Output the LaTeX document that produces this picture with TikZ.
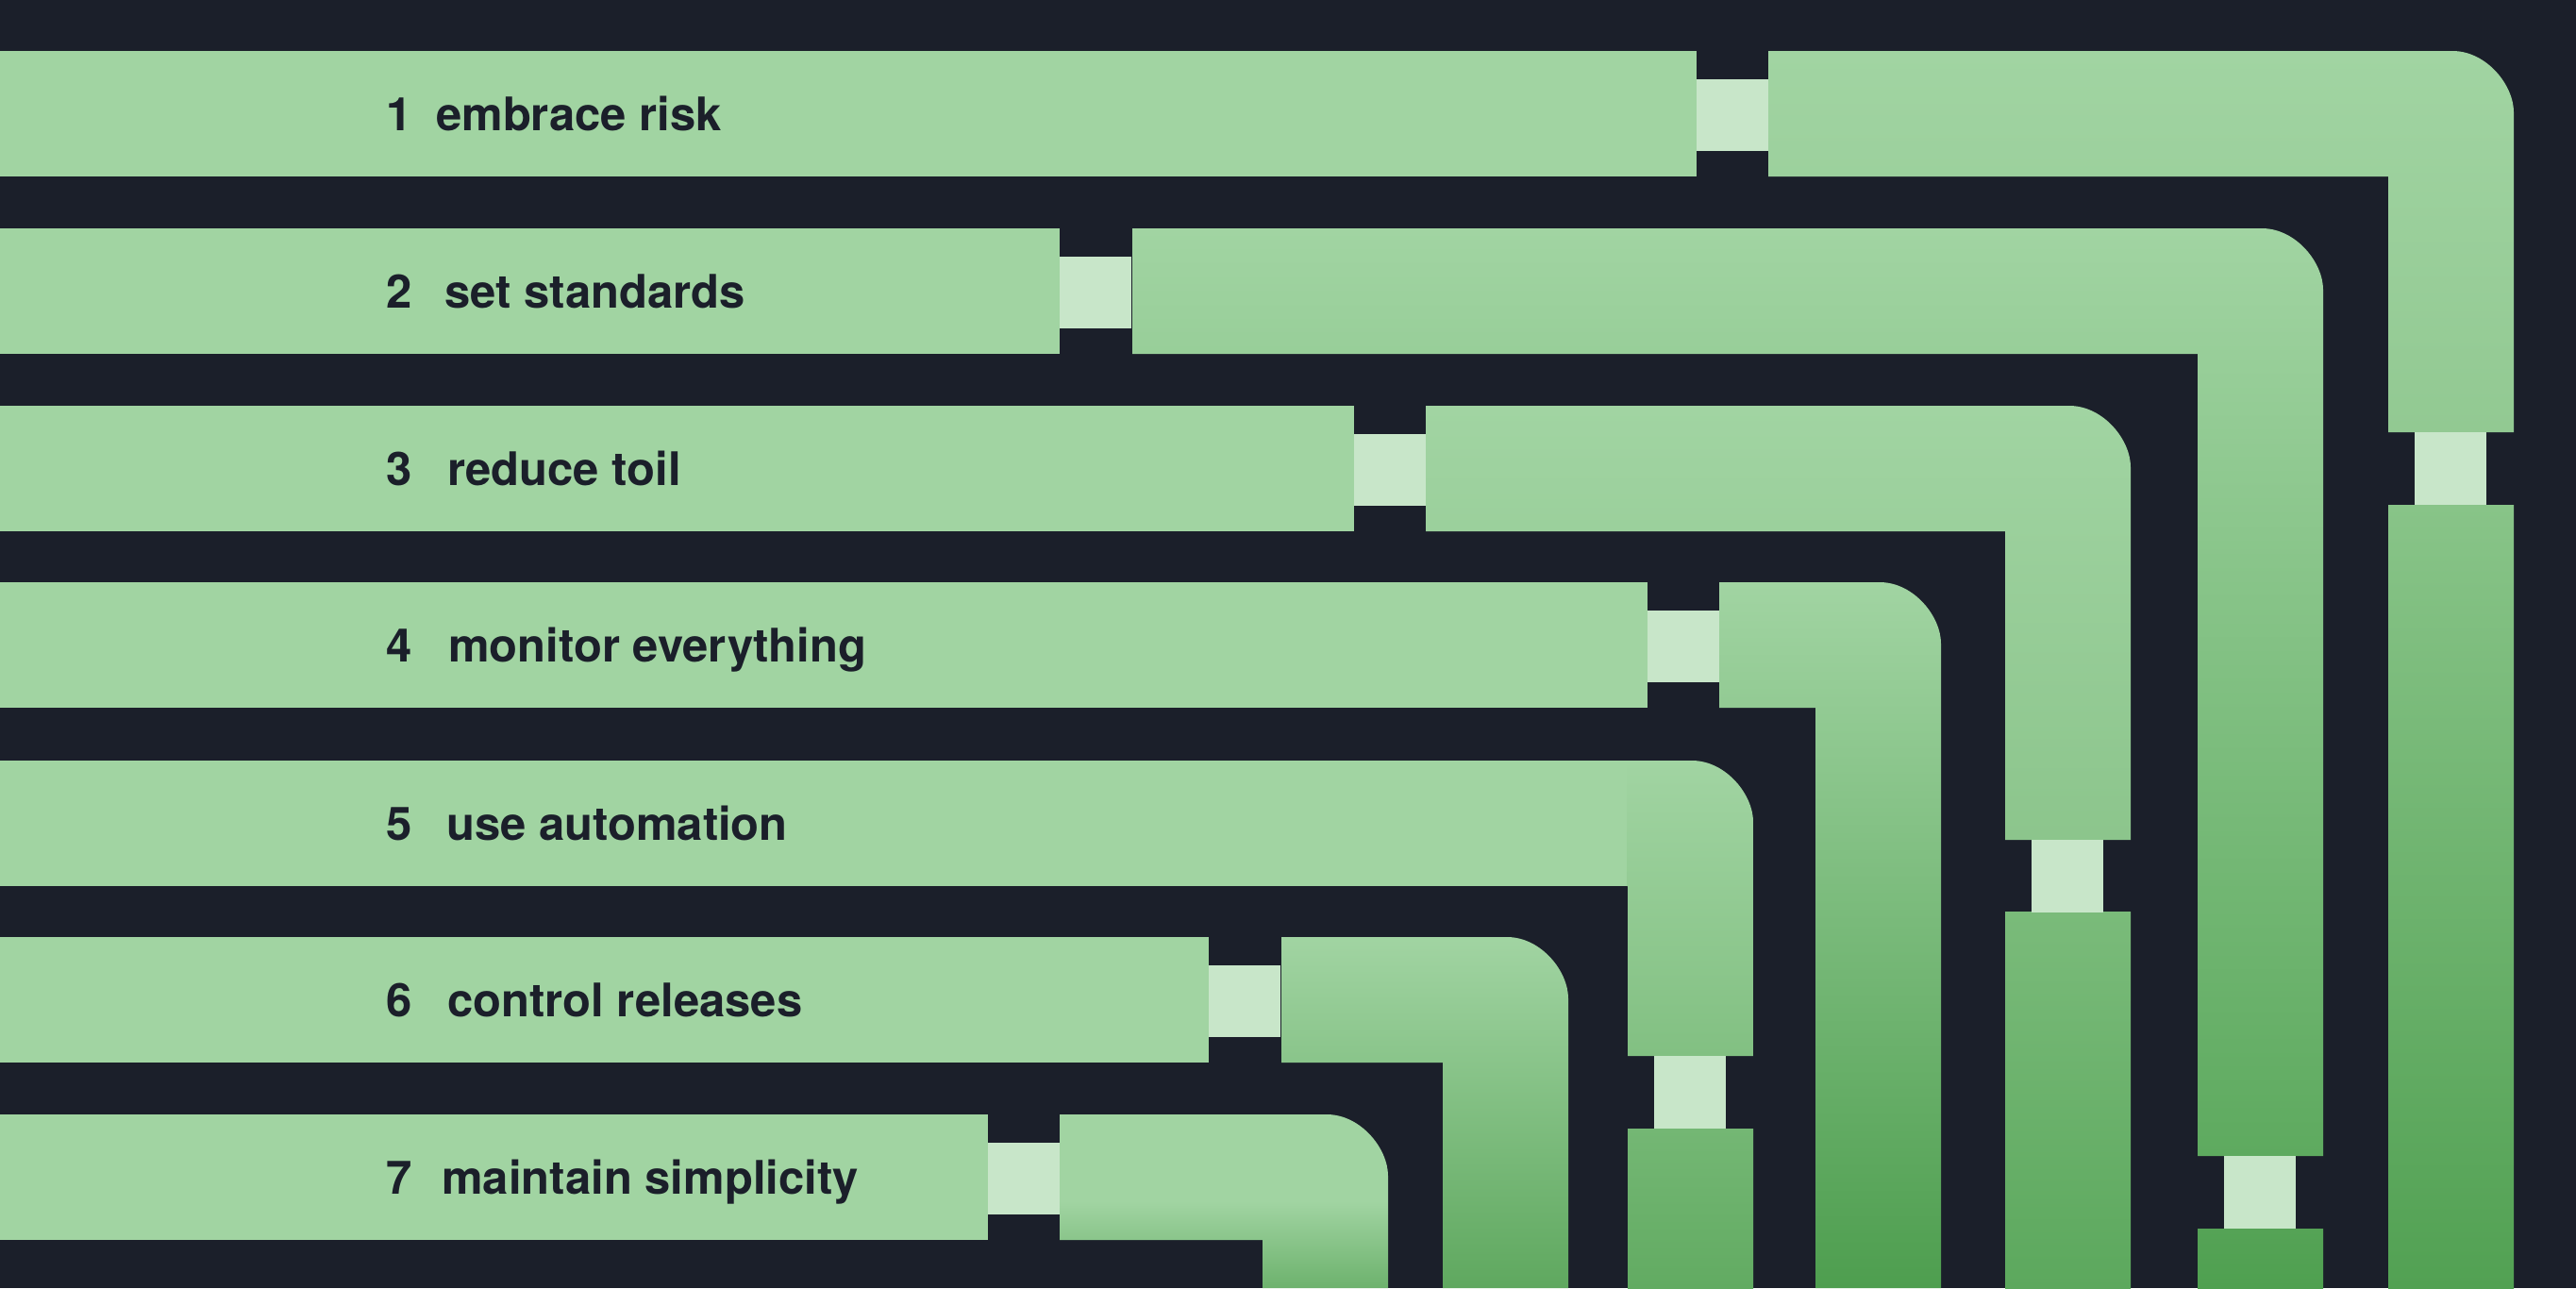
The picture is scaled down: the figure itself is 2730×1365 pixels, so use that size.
\documentclass[tikz,border=0pt]{standalone}
\usepackage{fontspec}
\setmainfont{TeX Gyre Heros}
\definecolor{bgc}{HTML}{1B1F2A}
\definecolor{lightg}{HTML}{A1D4A2}
\definecolor{connc}{HTML}{C8E6C9}
\definecolor{txtc}{HTML}{1B1F2A}
\definecolor{gA}{HTML}{92C992}
\definecolor{gB}{HTML}{5EAA5F}
\definecolor{gC}{HTML}{8CC58C}
\definecolor{gD}{HTML}{4E9E4F}
\definecolor{gE}{HTML}{82C082}
\definecolor{gF}{HTML}{5FA85F}
\definecolor{gG}{HTML}{6DB26D}
\definecolor{hA}{HTML}{88C488}
\definecolor{hAb}{HTML}{52A153}
\definecolor{hB}{HTML}{55A356}
\definecolor{hBb}{HTML}{4FA050}
\definecolor{hC}{HTML}{7ABB7A}
\definecolor{hCb}{HTML}{5CA85D}
\definecolor{hE}{HTML}{74B774}
\definecolor{hEb}{HTML}{62AB62}
\tikzset{
  barfill/.style={fill=lightg},
  connfill/.style={fill=connc},
  lbl/.style={text=txtc, font=\fontsize{49}{58}\selectfont\bfseries, inner sep=0pt, anchor=base west}
}
% pipe: #1 x0, #2 y0, #3 outer x1, #4 bottom y, #5 bottom colour, #6 extra shade options
\newcommand\pipeshape[6]{%
  \shade[top color=lightg, bottom color=#5, #6]
    (#1,#2) -- ({#3-65},#2) .. controls ({#3-29},#2) and (#3,{#2+36}) .. (#3,{#2+65})
    -- (#3,#4) -- ({#3-133},#4) -- ({#3-133},{#2+133}) -- (#1,{#2+133}) -- cycle;}
\newcommand\colpiece[5]{% x1 outer, ytop, ybottom, top colour, bottom colour
  \shade[top color=#4, bottom color=#5] ({#1-133},#2) rectangle (#1,#3);}
\newcommand\hconn[2]{% x left, bar top
  \fill[connfill] (#1,{#2+30}) rectangle ({#1+76},{#2+106});}
\newcommand\vconn[2]{% column outer x, y top
  \fill[connfill] ({#1-105},#2) rectangle ({#1-29},{#2+77});}
\begin{document}
\begin{tikzpicture}[x=1pt,y=-1pt]
\useasboundingbox (0,0) rectangle (2730,1365);
\fill[bgc] (0,0) rectangle (2730,1365);
\begin{scope}
\clip (0,0) rectangle (2730,1365);
% left bars
\fill[barfill] (0,54) rectangle (1798,187);
\fill[barfill] (0,242) rectangle (1123,375);
\fill[barfill] (0,430) rectangle (1435,563);
\fill[barfill] (0,617) rectangle (1746,750);
\fill[barfill] (0,806) rectangle (1724,939);
\fill[barfill] (0,993) rectangle (1281,1126);
\fill[barfill] (0,1181) rectangle (1047,1314);
% horizontal connectors
\hconn{1798}{54}
\hconn{1123}{242}
\hconn{1435}{430}
\hconn{1746}{617}
\hconn{1281}{993}
\hconn{1047}{1181}
% pipes
\pipeshape{1874}{54}{2664}{458}{gA}{}
\pipeshape{1200}{242}{2462}{1225}{gB}{}
\pipeshape{1511}{430}{2258}{890}{gC}{}
\pipeshape{1822}{617}{2057}{1365}{gD}{}
\pipeshape{1724}{806}{1858}{1119}{gE}{}
\pipeshape{1358}{993}{1662}{1365}{gF}{}
\pipeshape{1123}{1181}{1471}{1365}{gG}{middle color=lightg}
% lower column pieces
\colpiece{2664}{535}{1365}{hA}{hAb}
\colpiece{2462}{1302}{1365}{hB}{hBb}
\colpiece{2258}{966}{1365}{hC}{hCb}
\colpiece{1858}{1196}{1365}{hE}{hEb}
% vertical connectors
\vconn{2664}{458}
\vconn{2462}{1225}
\vconn{2258}{890}
\vconn{1858}{1119}
\end{scope}
% labels
\node[lbl] (n1) at (409,138) {1};
\node[lbl] (t1) at (462,138) {embrace risk};
\node[lbl] (n2) at (409,326) {2};
\node[lbl] (t2) at (471,326) {set standards};
\node[lbl] (n3) at (409,514) {3};
\node[lbl] (t3) at (474,514) {reduce toil};
\node[lbl] (n4) at (409,701) {4};
\node[lbl] (t4) at (475,701) {monitor everything};
\node[lbl] (n5) at (409,890) {5};
\node[lbl] (t5) at (473,890) {use automation};
\node[lbl] (n6) at (409,1077) {6};
\node[lbl] (t6) at (474,1077) {control releases};
\node[lbl] (n7) at (409,1265) {7};
\node[lbl] (t7) at (468,1265) {maintain simplicity};
\end{tikzpicture}
\end{document}
